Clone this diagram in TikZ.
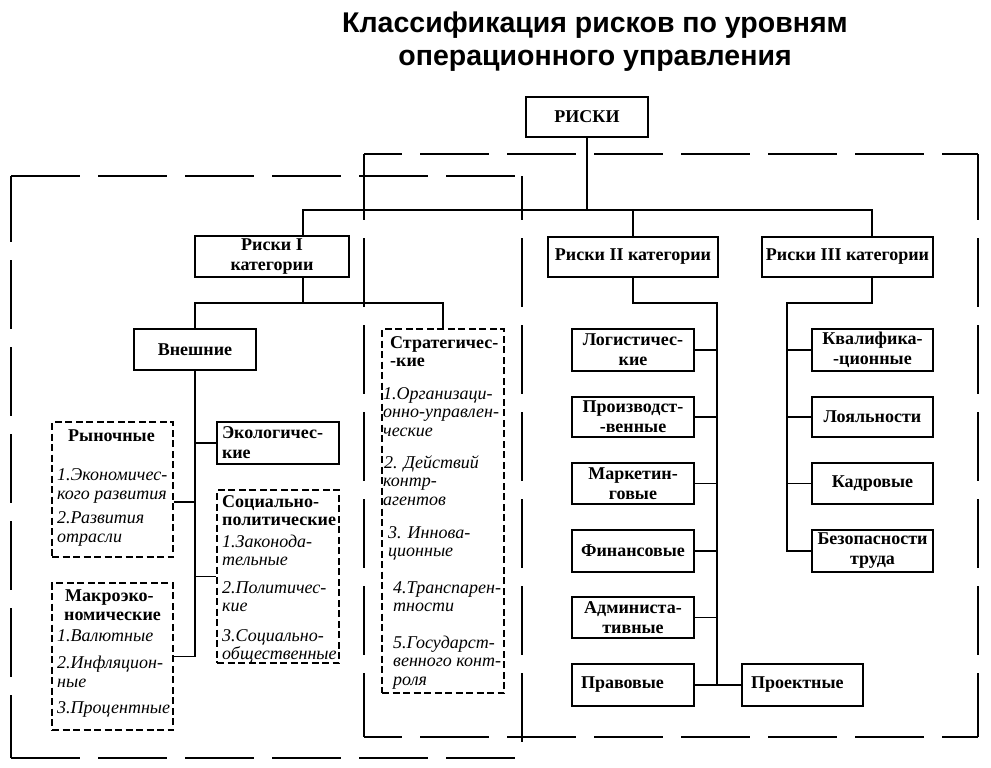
\documentclass[tikz,border=0pt]{standalone}
\usepackage{fontspec}
\setmainfont{Liberation Serif}
\newfontfamily\titlefont{Liberation Sans}
\newcommand\fl{\rule{0pt}{14pt}}
\newcommand\hd[1]{{\normalfont\bfseries #1}}
\begin{document}
\begin{tikzpicture}[x=1pt,y=-1pt,
  sbox/.style={draw, line width=1.5pt, inner sep=0pt, align=center, font=\bfseries\fontsize{18}{20}\selectfont},
  dbox/.style={draw, line width=1.4pt, inner sep=0pt, dash pattern=on 7pt off 3.5pt},
  itext/.style={anchor=north west, inner sep=0pt, align=flush left, font=\itshape\fontsize{18}{18.5}\selectfont},
  frameline/.style={line width=1.5pt, dash pattern=on 69pt off 18pt},
  conn/.style={line width=1.5pt},
  ttl/.style={font=\titlefont\bfseries\fontsize{28.5}{32}\selectfont, anchor=base, inner sep=0pt}]
\useasboundingbox (0,0) rectangle (991,768);
\fill[white] (0,0) rectangle (991,768);
% title
\node[ttl] (t1) at (595,33) {Классификация рисков по уровням};
\node[ttl] (t2) at (595,66) {операционного управления};
% frames
\draw[frameline, dash phase=0pt] (11,176) -- (522,176);
\draw[frameline, dash phase=0pt] (11,758) -- (522,758);
\draw[frameline, dash phase=3pt] (11,176) -- (11,758);
\draw[frameline, dash phase=25pt] (522,176) -- (522,758);
\draw[frameline, dash phase=31pt] (364,154) -- (978,154);
\draw[frameline, dash phase=31pt] (364,737) -- (978,737);
\draw[frameline, dash phase=3pt] (364,154) -- (364,737);
\draw[frameline, dash phase=3pt] (978,154) -- (978,737);
% top level
\node[sbox, minimum width=122, minimum height=40] (top) at (587,117) {РИСКИ};
\node[sbox, minimum width=154, minimum height=41] (r1) at (272,256.5) {Риски I\\категории};
\node[sbox, minimum width=170, minimum height=40] (r2) at (633,257) {Риски II категории};
\node[sbox, minimum width=171, minimum height=40] (r3) at (847.5,257) {Риски III категории};
% category I
\node[sbox, minimum width=122, minimum height=41] (ext) at (195,349.5) {Внешние};
\node[sbox, minimum width=122, minimum height=42, text width=112, align=flush left] (eco) at (278,443) {Экологичес-\\кие};
\node[dbox, minimum width=121, minimum height=135] (ryn) at (112.5,489.5) {};
\node[itext, text width=116, font=\itshape\fontsize{18}{19.5}\selectfont] (rynt) at (57,427)
  {\fl\hspace*{11pt}\hd{Рыночные}\\[19.5pt]1.Экономичес-\\кого развития\\[4pt]2.Развития\\отрасли};
\node[dbox, minimum width=122, minimum height=173] (soc) at (278,576.5) {};
\node[itext, text width=118] (soct) at (222,493)
  {\fl\hd{Социально-}\\\hd{политические}\\[3pt]1.Законода-\\тельные\\[9pt]2.Политичес-\\кие\\[11pt]3.Социально-\\общественные};
\node[dbox, minimum width=121, minimum height=147] (mak) at (112.5,656.5) {};
\node[itext, text width=116, font=\itshape\fontsize{18}{19}\selectfont] (makt) at (57,587)
  {\fl\hspace*{8pt}\hd{Макроэко-}\\\hspace*{7pt}\hd{номические}\\[2pt]1.Валютные\\[8pt]2.Инфляцион-\\ные\\[7pt]3.Процентные};
\node[dbox, minimum width=122, minimum height=364] (str) at (443,511) {};
\node[itext, text width=122] (strt) at (383,334)
  {\fl\hspace*{7pt}\hd{Стратегичес-}\\\hspace*{7pt}\hd{-кие}\\[14pt]1.Организаци-\\онно-управлен-\\ческие\\[13.5pt]\hspace*{1pt}2. Действий\\контр-\\агентов\\[14.5pt]\hspace*{5pt}3. Иннова-\\\hspace*{5pt}ционные\\[18pt]\hspace*{10pt}4.Транспарен-\\\hspace*{10pt}тности\\[18pt]\hspace*{10pt}5.Государст-\\\hspace*{10pt}венного конт-\\\hspace*{10pt}роля};
% category II
\node[sbox, minimum width=122, minimum height=42] (log) at (633,350) {Логистичес-\\кие};
\node[sbox, minimum width=122, minimum height=40] (pro) at (633,417) {Производст-\\-венные};
\node[sbox, minimum width=122, minimum height=41] (mar) at (633,483.5) {Маркетин-\\говые};
\node[sbox, minimum width=122, minimum height=42] (fin) at (633,551) {Финансовые};
\node[sbox, minimum width=122, minimum height=41] (adm) at (633,617.5) {Администа-\\тивные};
\node[sbox, minimum width=122, minimum height=42, text width=104, align=flush left] (prv) at (633,685) {Правовые};
\node[sbox, minimum width=121, minimum height=42, text width=103, align=flush left] (prj) at (802.5,685) {Проектные};
% category III
\node[sbox, minimum width=121, minimum height=42] (kva) at (872.5,350) {Квалифика-\\-ционные};
\node[sbox, minimum width=121, minimum height=40] (loy) at (872.5,417) {Лояльности};
\node[sbox, minimum width=121, minimum height=41] (kad) at (872.5,483.5) {Кадровые};
\node[sbox, minimum width=121, minimum height=42] (bez) at (872.5,551) {Безопасности\\труда};
% connectors
\coordinate (b0) at (587,210);
\coordinate (c1) at (303,0);
\coordinate (c3) at (872,0);
\draw[conn] (top.south) -- (b0);
\draw[conn] (r1.north -| c1) |- (b0) -| (r3.north -| c3);
\draw[conn] (r2.north) -- (r2.north |- b0);
\coordinate (b1) at (303,303);
\draw[conn] (r1.south -| b1) -- (b1);
\draw[conn] (ext.north) |- (b1) -| (str.north);
\draw[conn] (ext.south) |- (mak.east);
\draw[conn] (ext.south |- eco.west) -- (eco.west);
\draw[conn] (ext.south |- soc.west) -- (soc.west);
\coordinate (ry) at (0,502);
\draw[conn] (ryn.east |- ry) -- (ext.south |- ry);
\coordinate (s2) at (717,303);
\draw[conn] (r2.south) |- (s2) |- (prv.east);
\foreach \n in {log,pro,mar,fin,adm} \draw[conn] (\n.east) -- (\n.east -| s2);
\draw[conn] (prj.west) -- (prj.west -| s2);
\coordinate (s3) at (787,303);
\draw[conn] (r3.south -| c3) |- (s3) |- (bez.west);
\foreach \n in {kva,loy,kad} \draw[conn] (\n.west) -- (\n.west -| s3);
\end{tikzpicture}
\end{document}
